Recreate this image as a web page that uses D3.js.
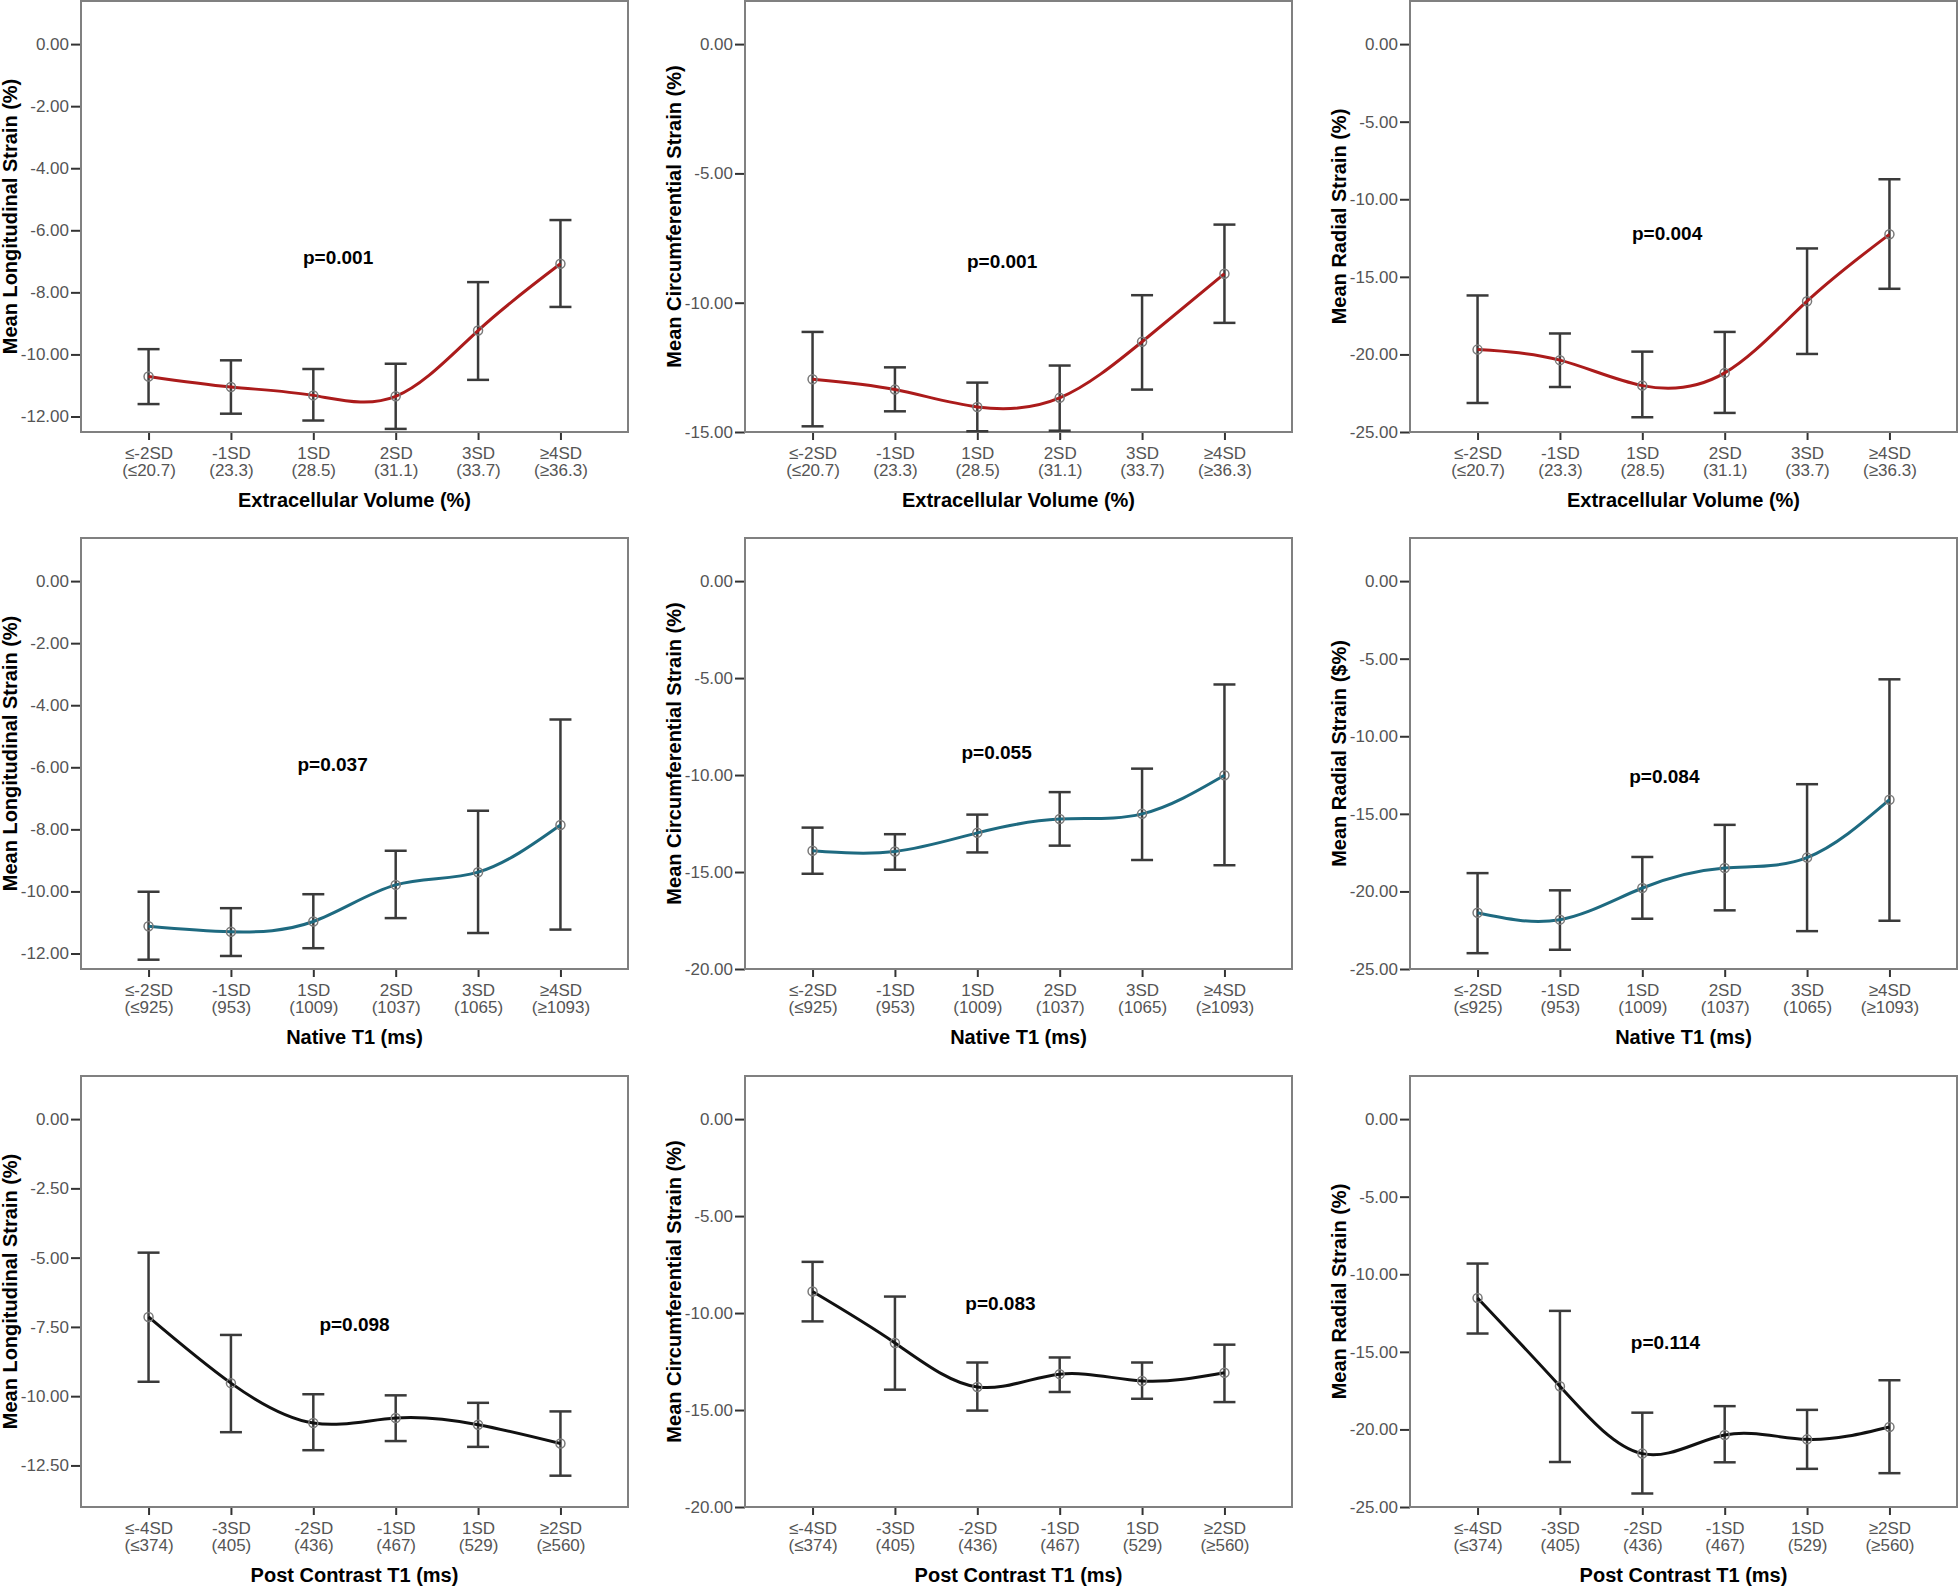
<!DOCTYPE html>
<html>
<head>
<meta charset="utf-8">
<script src="https://cdnjs.cloudflare.com/ajax/libs/d3/7.8.5/d3.min.js"></script>
<style>
  body { margin: 0; background: #fff; }
  svg text { font-family: "Liberation Sans", Arial, sans-serif; }
</style>
</head>
<body>
<div id="chart"></div>
<script>
// x axis groups, one set per row
const ecvGroups = ["≤-2SD", "-1SD", "1SD", "2SD", "3SD", "≥4SD"];
const ecvCutoffs = ["(≤20.7)", "(23.3)", "(28.5)", "(31.1)", "(33.7)", "(≥36.3)"];
const nativeGroups = ["≤-2SD", "-1SD", "1SD", "2SD", "3SD", "≥4SD"];
const nativeCutoffs = ["(≤925)", "(953)", "(1009)", "(1037)", "(1065)", "(≥1093)"];
const postGroups = ["≤-4SD", "-3SD", "-2SD", "-1SD", "1SD", "≥2SD"];
const postCutoffs = ["(≤374)", "(405)", "(436)", "(467)", "(529)", "(≥560)"];
const xTitles = ["Extracellular Volume (%)", "Native T1 (ms)", "Post Contrast T1 (ms)"];

// each point: [mean, lower 95% CI, upper 95% CI]
const ecvLong = [[-10.71, -11.60, -9.83], [-11.05, -11.91, -10.19], [-11.32, -12.13, -10.47], [-11.35, -12.40, -10.30], [-9.23, -10.82, -7.67], [-7.08, -8.47, -5.67]];
const ecvCirc = [[-12.96, -14.78, -11.13], [-13.36, -14.20, -12.50], [-14.03, -14.97, -13.09], [-13.68, -14.95, -12.43], [-11.51, -13.36, -9.71], [-8.88, -10.78, -6.98]];
const ecvRad = [[-19.69, -23.13, -16.20], [-20.37, -22.10, -18.65], [-22.01, -24.05, -19.82], [-21.19, -23.77, -18.55], [-16.57, -19.97, -13.17], [-12.26, -15.77, -8.71]];
const nativeLong = [[-11.12, -12.20, -10.01], [-11.30, -12.08, -10.54], [-10.97, -11.83, -10.09], [-9.79, -10.86, -8.69], [-9.38, -11.34, -7.40], [-7.86, -11.23, -4.46]];
const nativeCirc = [[-13.90, -15.09, -12.71], [-13.94, -14.88, -13.05], [-12.98, -13.99, -12.04], [-12.27, -13.64, -10.88], [-12.00, -14.38, -9.67], [-10.01, -14.65, -5.33]];
const nativeRad = [[-21.38, -23.98, -18.82], [-21.82, -23.76, -19.93], [-19.78, -21.76, -17.78], [-18.49, -21.22, -15.71], [-17.82, -22.56, -13.09], [-14.09, -21.89, -6.33]];
const postLong = [[-7.14, -9.48, -4.82], [-9.53, -11.30, -7.79], [-10.97, -11.95, -9.93], [-10.79, -11.62, -9.97], [-11.03, -11.83, -10.24], [-11.71, -12.87, -10.55]];
const postCirc = [[-8.89, -10.43, -7.36], [-11.54, -13.95, -9.15], [-13.81, -15.03, -12.55], [-13.15, -14.07, -12.29], [-13.50, -14.42, -12.55], [-13.08, -14.59, -11.63]];
const postRad = [[-11.53, -13.82, -9.31], [-17.22, -22.10, -12.36], [-21.56, -24.13, -18.92], [-20.36, -22.12, -18.50], [-20.64, -22.54, -18.74], [-19.84, -22.82, -16.83]];

const yTitles = ["Mean Longitudinal Strain (%)", "Mean Circumferential Strain (%)", "Mean Radial Strain (%)",
                 "Mean Longitudinal Strain (%)", "Mean Circumferential Strain (%)", "Mean Radial Strain ($%)",
                 "Mean Longitudinal Strain (%)", "Mean Circumferential Strain (%)", "Mean Radial Strain (%)"];
const pValues = ["p=0.001", "p=0.001", "p=0.004", "p=0.037", "p=0.055", "p=0.084", "p=0.098", "p=0.083", "p=0.114"];

// axis bottoms and tick labels for each panel
const yMins = [-12.5, -15, -25, -12.5, -20, -25, -14, -20, -25];
const longTicks = [0, -2, -4, -6, -8, -10, -12];
const longTicksPost = [0, -2.5, -5, -7.5, -10, -12.5];
const circTicks15 = [0, -5, -10, -15];
const circTicks20 = [0, -5, -10, -15, -20];
const radTicks = [0, -5, -10, -15, -20, -25];

const panels = [
  { row: 0, col: 0, data: ecvLong, ticks: longTicks },
  { row: 0, col: 1, data: ecvCirc, ticks: circTicks15 },
  { row: 0, col: 2, data: ecvRad, ticks: radTicks },
  { row: 1, col: 0, data: nativeLong, ticks: longTicks },
  { row: 1, col: 1, data: nativeCirc, ticks: circTicks20 },
  { row: 1, col: 2, data: nativeRad, ticks: radTicks },
  { row: 2, col: 0, data: postLong, ticks: longTicksPost },
  { row: 2, col: 1, data: postCirc, ticks: circTicks20 },
  { row: 2, col: 2, data: postRad, ticks: radTicks }
];
const rowGroups = [[ecvGroups, ecvCutoffs], [nativeGroups, nativeCutoffs], [postGroups, postCutoffs]];

// layout
const colX = [81, 745, 1410];
const rowY = [1, 538, 1076];
const W = 547, H = 431;
const lineColors = ["#ab1b1b", "#1e6a80", "#111111"];
// where the p label sits, as fraction of the plot box
const pPos = [[0.47, 0.595], [0.47, 0.605], [0.47, 0.54], [0.46, 0.526], [0.46, 0.498], [0.465, 0.554], [0.50, 0.576], [0.467, 0.527], [0.467, 0.618]];

const svg = d3.select('#chart').append('svg')
  .attr('width', 1959).attr('height', 1588);

panels.forEach((p, i) => {
  const [groups, cutoffs] = rowGroups[p.row];
  const g = svg.append('g').attr('transform', `translate(${colX[p.col]},${rowY[p.row]})`);

  const x = d3.scalePoint().domain(groups).range([0, W]).padding(0.82);
  const yMin = yMins[i];
  const y = d3.scaleLinear().domain([yMin, -yMin / 9]).range([H, 0]);

  // y axis ticks + labels
  const yAxis = g.append('g').call(d3.axisLeft(y).tickValues(p.ticks).tickSize(10).tickPadding(2).tickFormat(d => d.toFixed(2)));
  yAxis.select('.domain').remove();
  yAxis.selectAll('line').attr('stroke', '#333').attr('stroke-width', 2);
  yAxis.selectAll('text').attr('fill', '#555').style('font-size', '17px');

  // x axis ticks + two-line labels
  const xAxis = g.append('g').attr('transform', `translate(0,${H})`)
    .call(d3.axisBottom(x).tickSize(8).tickFormat(''));
  xAxis.select('.domain').remove();
  xAxis.selectAll('line').attr('stroke', '#333').attr('stroke-width', 2);
  xAxis.selectAll('.tick').each(function (d, k) {
    const t = d3.select(this).append('text')
      .attr('fill', '#555').attr('text-anchor', 'middle').style('font-size', '17px');
    t.append('tspan').attr('x', 0).attr('y', 27).text(d);
    t.append('tspan').attr('x', 0).attr('y', 44).text(cutoffs[k]);
  });

  // plot frame
  g.append('rect').attr('width', W).attr('height', H)
    .attr('fill', 'none').attr('stroke', '#808080').attr('stroke-width', 2);

  // error bars
  const bars = g.append('g').attr('stroke', '#3a3a3a').attr('stroke-width', 2.5);
  p.data.forEach((d, k) => {
    const cx = x(groups[k]);
    bars.append('line').attr('x1', cx).attr('x2', cx).attr('y1', y(d[1])).attr('y2', y(d[2]));
    bars.append('line').attr('x1', cx - 11).attr('x2', cx + 11).attr('y1', y(d[1])).attr('y2', y(d[1]));
    bars.append('line').attr('x1', cx - 11).attr('x2', cx + 11).attr('y1', y(d[2])).attr('y2', y(d[2]));
  });

  // smoothed mean line
  const line = d3.line()
    .x((d, k) => x(groups[k]))
    .y(d => y(d[0]))
    .curve(d3.curveNatural);
  g.append('path').datum(p.data).attr('d', line)
    .attr('fill', 'none').attr('stroke', lineColors[p.row]).attr('stroke-width', 3);

  g.selectAll('circle.m').data(p.data).enter().append('circle')
    .attr('cx', (d, k) => x(groups[k])).attr('cy', d => y(d[0])).attr('r', 4.5)
    .attr('fill', 'none').attr('stroke', '#7a7a7a').attr('stroke-width', 1.5);

  // p value
  g.append('text').attr('x', W * pPos[i][0]).attr('y', H * pPos[i][1])
    .attr('text-anchor', 'middle').attr('dominant-baseline', 'central')
    .style('font-size', '19px').style('font-weight', 'bold').text(pValues[i]);

  // axis titles
  g.append('text').attr('transform', `translate(${-71},${H / 2}) rotate(-90)`)
    .attr('text-anchor', 'middle').attr('dominant-baseline', 'central')
    .style('font-size', '20px').style('font-weight', 'bold').text(yTitles[i]);
  g.append('text').attr('x', W / 2).attr('y', H + 75)
    .attr('text-anchor', 'middle')
    .style('font-size', '20px').style('font-weight', 'bold').text(xTitles[p.row]);
});
</script>
</body>
</html>
